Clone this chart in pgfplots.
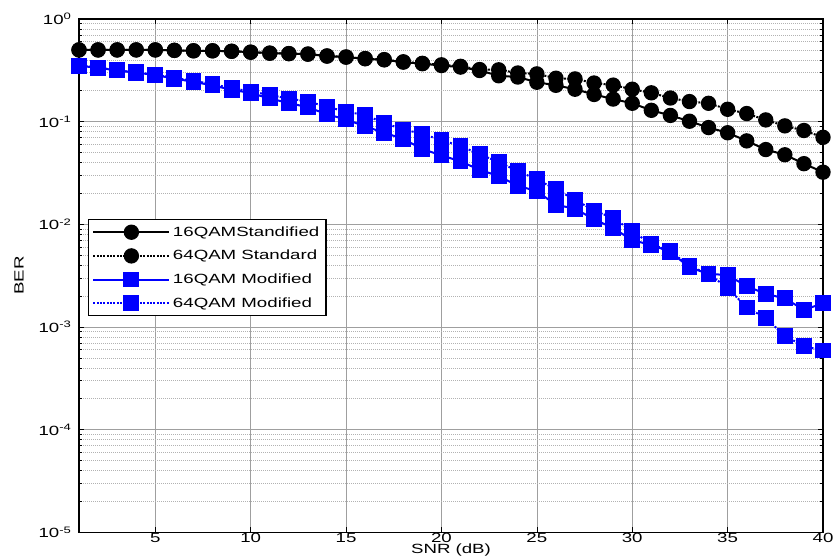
\documentclass[border=0pt]{standalone}
\usepackage{fontspec}
\setmainfont{Liberation Sans}[FakeStretch=1.4]
\usepackage{pgfplots}
\usepackage{pgfplotstable}
\pgfplotsset{compat=1.18}

% SNR, 16QAM std, 64QAM std, 16QAM mod, 64QAM mod
\pgfplotstableread{
snr s16 s64 m16 m64
1 0.500 0.500 0.350 0.352
2 0.500 0.500 0.335 0.336
3 0.500 0.500 0.315 0.317
4 0.500 0.500 0.300 0.302
5 0.500 0.500 0.285 0.287
6 0.495 0.495 0.262 0.266
7 0.490 0.490 0.245 0.250
8 0.490 0.490 0.225 0.232
9 0.485 0.485 0.205 0.212
10 0.475 0.475 0.190 0.197
11 0.465 0.465 0.168 0.182
12 0.460 0.460 0.152 0.168
13 0.455 0.455 0.138 0.157
14 0.435 0.437 0.118 0.140
15 0.425 0.427 0.105 0.125
16 0.410 0.412 0.090 0.116
17 0.400 0.402 0.078 0.097
18 0.380 0.383 0.068 0.084
19 0.367 0.370 0.054 0.076
20 0.352 0.358 0.047 0.066
21 0.340 0.346 0.041 0.058
22 0.315 0.322 0.034 0.048
23 0.280 0.320 0.0295 0.0405
24 0.272 0.298 0.0238 0.033
25 0.242 0.292 0.021 0.0274
26 0.226 0.265 0.0155 0.0219
27 0.207 0.261 0.0142 0.0174
28 0.184 0.238 0.0112 0.0136
29 0.166 0.227 0.0092 0.0115
30 0.151 0.207 0.0070 0.0086
31 0.129 0.191 0.0063 0.0064
32 0.115 0.170 0.0054 0.0055
33 0.101 0.157 0.0038 0.0039
34 0.0876 0.151 0.0033 0.0033
35 0.078 0.132 0.0032 0.0024
36 0.065 0.120 0.0025 0.00155
37 0.0535 0.104 0.0021 0.00122
38 0.0476 0.091 0.0019 0.00082
39 0.039 0.082 0.00147 0.00065
40 0.0322 0.0704 0.0017 0.00059
}\datatab

\begin{document}
\begin{tikzpicture}
\begin{axis}[
    scale only axis,
    width=558pt, height=385pt,
    ymode=log,
    xmin=1, xmax=40,
    ymin=1e-5, ymax=1,
    xtick={5,10,...,40},
    ytick={1e-5,1e-4,1e-3,1e-2,1e-1,1},
    yticklabels={10\textsuperscript{-5},10\textsuperscript{-4},10\textsuperscript{-3},10\textsuperscript{-2},10\textsuperscript{-1},10\textsuperscript{0}},
    /pgf/number format/assume math mode=true,
    tick label style={font=\fontsize{10}{12}\selectfont},
    label style={font=\fontsize{10}{12}\selectfont},
    yticklabel style={xshift=-2pt},
    xticklabel style={yshift=3pt},
    xlabel={SNR (dB)},
    ylabel={BER},
    xlabel style={at={(axis description cs:0.5,0)}, anchor=base, yshift=-16pt, inner sep=0pt},
    ylabel style={at={(axis description cs:0,0.5)}, anchor=center, yshift=45pt},
    tick align=inside,
    major tick length=4pt,
    minor tick length=2.5pt,
    tick style={black, line width=0.5pt},
    axis line style={black, line width=1pt},
    xmajorgrids, ymajorgrids, yminorgrids,
    major grid style={gray!75, line width=0.5pt},
    minor grid style={gray!60, line width=0.5pt, densely dotted},
    legend style={
        at={(rel axis cs:0.012,0.61)}, anchor=north west,
        draw=black, line width=0.8pt, fill=white,
        font=\fontsize{10}{12}\selectfont,
        row sep=5pt, inner sep=3pt,
    },
    legend cell align=left,
    legend image code/.code={
        \draw[mark repeat=2, mark phase=2, #1]
        plot coordinates {(0cm,0cm) (1cm,0cm) (2cm,0cm)};
    },
]
\addplot[black, line width=1.5pt, mark=*, mark size=5pt, mark options={solid}]
    table[x=snr, y=s16] {\datatab};
\addlegendentry{16QAMStandified}
\addplot[black, line width=1.5pt, densely dotted, mark=*, mark size=5pt, mark options={solid}]
    table[x=snr, y=s64] {\datatab};
\addlegendentry{64QAM Standard}
\addplot[blue, line width=1.5pt, mark=square*, mark size=5.2pt, mark options={solid}]
    table[x=snr, y=m16] {\datatab};
\addlegendentry{16QAM Modified}
\addplot[blue, line width=1.5pt, densely dotted, mark=square*, mark size=5.2pt, mark options={solid}]
    table[x=snr, y=m64] {\datatab};
\addlegendentry{64QAM Modified}
\coordinate (tl) at (rel axis cs:0,1);
\coordinate (br) at (rel axis cs:1,0);
\end{axis}
\pgfresetboundingbox
\path ([xshift=-59.25pt,yshift=14.25pt]tl) rectangle ([xshift=9.75pt,yshift=-18pt]br);
\end{tikzpicture}
\end{document}
